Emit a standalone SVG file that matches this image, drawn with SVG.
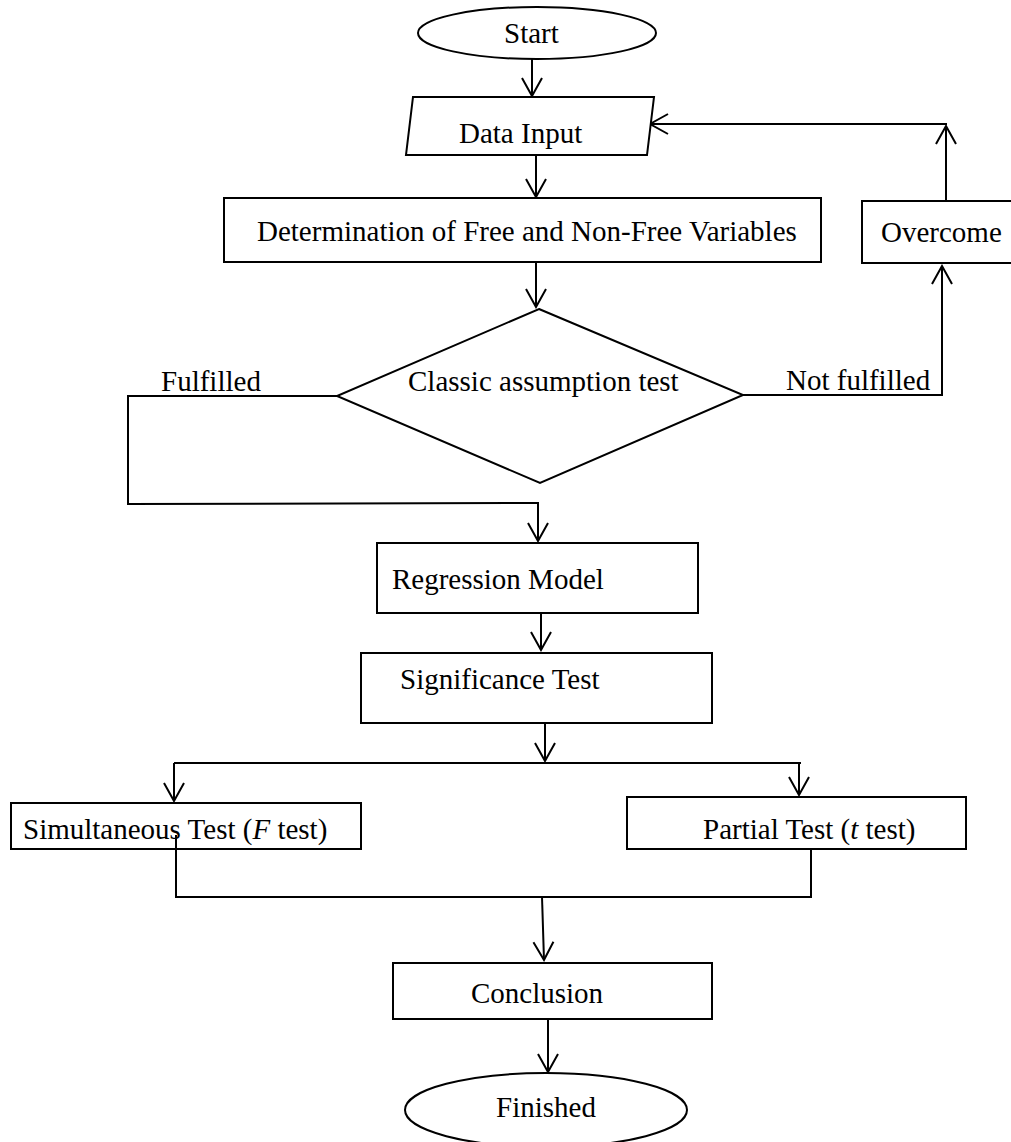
<svg xmlns="http://www.w3.org/2000/svg" width="1011" height="1142" viewBox="0 0 1011 1142">
<style>
.shape{fill:#fff;stroke:#000;stroke-width:2}
.ln{fill:none;stroke:#000;stroke-width:2}
text{font-family:"Liberation Serif","Times New Roman",serif;font-size:29px;fill:#000}
</style>
<defs>
<marker id="arr" markerUnits="userSpaceOnUse" viewBox="-21 -12 23 24" refX="0" refY="0" markerWidth="23" markerHeight="24" orient="auto">
<path d="M-18,-10 L0,0 L-18,10" fill="none" stroke="#000" stroke-width="2"/>
</marker>
</defs>
<rect width="1011" height="1142" fill="#fff"/>
<g id="connectors">
<line class="ln" x1="532" y1="59" x2="532" y2="96" marker-end="url(#arr)"/>
<line class="ln" x1="536" y1="155" x2="536" y2="197" marker-end="url(#arr)"/>
<line class="ln" x1="536" y1="262" x2="536" y2="307" marker-end="url(#arr)"/>
<polyline class="ln" points="743,395 942,395 942,266" marker-end="url(#arr)"/>
<line class="ln" x1="946" y1="201" x2="946" y2="126" marker-end="url(#arr)"/>
<line class="ln" x1="947" y1="124" x2="650" y2="124" marker-end="url(#arr)"/>
<polyline class="ln" points="337,396 128,396 128,504 538,503 538,541" marker-end="url(#arr)"/>
<line class="ln" x1="541" y1="613" x2="541" y2="650" marker-end="url(#arr)"/>
<line class="ln" x1="545" y1="723" x2="545" y2="761" marker-end="url(#arr)"/>
<line class="ln" x1="174" y1="763" x2="801" y2="763"/>
<line class="ln" x1="174" y1="763" x2="174" y2="801" marker-end="url(#arr)"/>
<line class="ln" x1="799" y1="763" x2="799" y2="795" marker-end="url(#arr)"/>
<polyline class="ln" points="176,835 176,897 811,897 811,849"/>
<line class="ln" x1="542" y1="897" x2="544" y2="960" marker-end="url(#arr)"/>
<line class="ln" x1="548" y1="1019" x2="548" y2="1072" marker-end="url(#arr)"/>
</g>
<g id="start">
<ellipse class="shape" cx="537" cy="33" rx="119" ry="26"/>
<text x="504" y="43">Start</text>
</g>
<g id="data-input">
<polygon class="shape" points="413,97 654,97 647,155 406,155"/>
<text x="459" y="143">Data Input</text>
</g>
<g id="determination">
<rect class="shape" x="224" y="198" width="597" height="64"/>
<text x="257" y="241">Determination of Free and Non-Free Variables</text>
</g>
<g id="overcome">
<rect class="shape" x="862" y="201" width="160" height="62"/>
<text x="881" y="242">Overcome</text>
</g>
<g id="classic-test">
<polygon class="shape" points="539,309 743,395 540,483 337,396"/>
<text x="408" y="391">Classic assumption test</text>
</g>
<g id="labels">
<text x="161" y="391">Fulfilled</text>
<text x="786" y="390">Not fulfilled</text>
</g>
<g id="regression">
<rect class="shape" x="377" y="543" width="321" height="70"/>
<text x="392" y="589">Regression Model</text>
</g>
<g id="significance">
<rect class="shape" x="361" y="653" width="351" height="70"/>
<text x="400" y="689">Significance Test</text>
</g>
<g id="simultaneous">
<rect class="shape" x="11" y="803" width="350" height="46"/>
<text x="23" y="839">Simultaneous Test (<tspan font-style="italic">F</tspan> test)</text>
</g>
<g id="partial">
<rect class="shape" x="627" y="797" width="339" height="52"/>
<text x="703" y="839">Partial Test (<tspan font-style="italic">t</tspan> test)</text>
</g>
<g id="conclusion">
<rect class="shape" x="393" y="963" width="319" height="56"/>
<text x="471" y="1003">Conclusion</text>
</g>
<g id="finished">
<ellipse class="shape" cx="546" cy="1110" rx="141" ry="37"/>
<text x="496" y="1117">Finished</text>
</g>
<line class="ln" x1="176" y1="835" x2="176" y2="849"/>
</svg>
